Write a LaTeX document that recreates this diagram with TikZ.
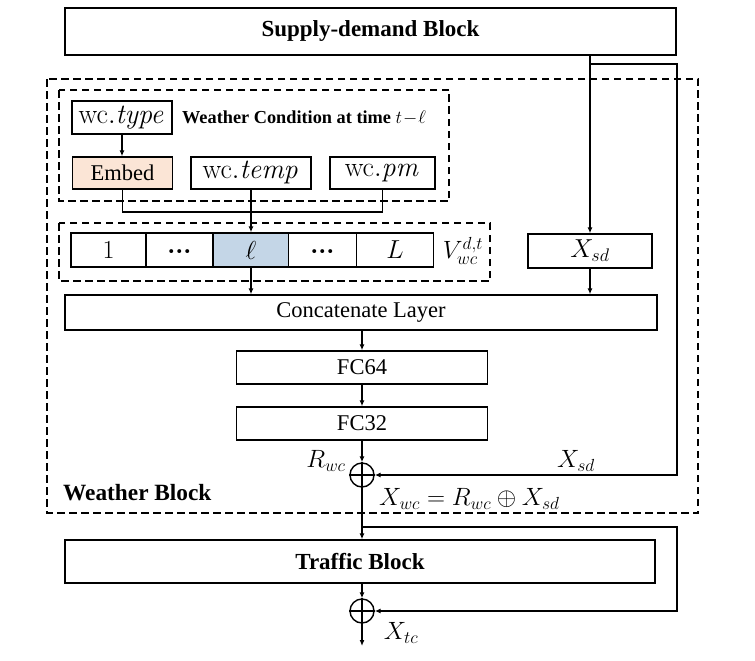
\RequirePackage{fix-cm}
\documentclass[tikz,border=0pt]{standalone}
\usepackage[no-math]{fontspec}
\setmainfont{Liberation Serif}
\usetikzlibrary{arrows.meta}
\definecolor{embedfill}{HTML}{FBE5D6}
\definecolor{cellfill}{HTML}{C4D6E7}
\tikzset{
  box/.style={draw, line width=1.4pt, rectangle, inner sep=0pt, font=\fontsize{22.5}{27}\selectfont},
  bbox/.style={box, font=\fontsize{23}{27}\selectfont\bfseries},
  mbox/.style={box, font=\fontsize{26}{30}\selectfont},
  wbox/.style={box, font=\fontsize{28}{32}\selectfont},
  dotbox/.style={box, font=\fontsize{24}{28}\selectfont\bfseries, text height=18pt, text depth=0pt},
  dashbox/.style={line width=1.4pt, dash pattern=on 7.5pt off 4.5pt},
  conn/.style={line width=1.4pt},
  arr/.style={line width=1.4pt, -{Latex[length=6pt,width=5pt]}},
  opl/.style={draw, circle, line width=1.4pt, minimum size=24pt, inner sep=0pt},
  lbl/.style={inner sep=0pt, font=\fontsize{25}{30}\selectfont},
}
\begin{document}
\begin{tikzpicture}[x=1pt,y=-1pt]
\useasboundingbox (0,0) rectangle (755,661);

% containers
\draw[dashbox] (47,79) rectangle (698,513);
\draw[dashbox] (59,90) rectangle (449,201);
\draw[dashbox] (59,223) rectangle (490,281);

% nodes
\node[bbox, minimum width=611pt, minimum height=47pt] (sd) at (370.5,31.5) {Supply-demand Block};
\node[wbox, minimum width=100pt, minimum height=33pt] (wctype) at (122,117.5) {$\mathrm{wc}.\mathit{type}$};
\node[anchor=west, inner sep=0pt, font=\fontsize{18.3}{22}\selectfont\bfseries] (wclbl) at (182,118) {Weather Condition at time $t\!-\!\ell$};
\node[box, fill=embedfill, minimum width=100pt, minimum height=32pt] (embed) at (122.5,173) {Embed};
\node[wbox, minimum width=120pt, minimum height=32pt] (temp) at (251,173) {$\mathrm{wc}.\mathit{temp}$};
\node[wbox, minimum width=105pt, minimum height=32pt] (pm) at (382.5,173) {$\mathrm{wc}.\mathit{pm}$};

\node[mbox, minimum width=75pt, minimum height=34pt] (c1) at (108.5,250) {$1$};
\node[dotbox, minimum width=67pt, minimum height=34pt] (c2) at (179.5,250) {···};
\node[mbox, fill=cellfill, minimum width=75pt, minimum height=34pt] (c3) at (251,250) {$\ell$};
\node[dotbox, minimum width=68pt, minimum height=34pt] (c4) at (322.5,250) {···};
\node[mbox, minimum width=77pt, minimum height=34pt] (c5) at (395,250) {$L$};
\node[lbl] (vlbl) at (463,251) {$V_{wc}^{d,t}$};

\node[mbox, minimum width=124pt, minimum height=34pt] (xsd) at (590,251) {$X_{sd}$};
\node[box, minimum width=592pt, minimum height=35pt] (concat) at (361,312.5) {Concatenate Layer};
\node[box, minimum width=251pt, minimum height=33pt] (fc64) at (362,367.5) {FC64};
\node[box, minimum width=251pt, minimum height=33pt] (fc32) at (362,423.5) {FC32};

\node[opl] (op1) at (362,475) {};
\draw[conn] (op1.north) -- (op1.south) (op1.west) -- (op1.east);
\node[lbl] (rwc) at (326,461) {$R_{wc}$};
\node[lbl] (xsdlbl) at (576,461) {$X_{sd}$};
\node[lbl, anchor=west] (xwc) at (379,499) {$X_{wc}=R_{wc}\oplus X_{sd}$};
\node[anchor=west, inner sep=0pt, font=\fontsize{23.3}{27}\selectfont\bfseries] (wblk) at (63,493) {Weather Block};

\node[bbox, minimum width=590pt, minimum height=43pt] (traffic) at (360,561.5) {Traffic Block};
\node[opl] (op2) at (362,611) {};
\draw[conn] (op2.north) -- (op2.south) (op2.west) -- (op2.east);
\node[lbl] (xtc) at (401,633) {$X_{tc}$};

% helper coordinates
\coordinate (b1) at (590,64);
\coordinate (r1) at (677,64);
\coordinate (j) at (251,212);
\coordinate (b2) at (362,527);
\coordinate (r2) at (677,527);
\coordinate (out) at (362,646);

% connectors
\draw[arr] (sd.south -| xsd.north) -- (xsd.north);
\draw[arr] (b1) -- (r1) |- (op1.east);
\draw[arr] (xsd.south) -- (xsd.south |- concat.north);
\draw[arr] (wctype.south) -- (wctype.south |- embed.north);
\draw[conn] (embed.south) -- (embed.south |- j) -- (pm.south |- j) -- (pm.south);
\draw[arr] (temp.south) -- (c3.north);
\draw[arr] (c3.south) -- (c3.south |- concat.north);
\draw[arr] (concat.south -| fc64.north) -- (fc64.north);
\draw[arr] (fc64.south) -- (fc32.north);
\draw[arr] (fc32.south) -- (op1.north);
\draw[arr] (op1.south) -- (op1.south |- traffic.north);
\draw[arr] (b2) -- (r2) |- (op2.east);
\draw[arr] (traffic.south -| op2.north) -- (op2.north);
\draw[arr] (op2.south) -- (out);
\end{tikzpicture}
\end{document}
